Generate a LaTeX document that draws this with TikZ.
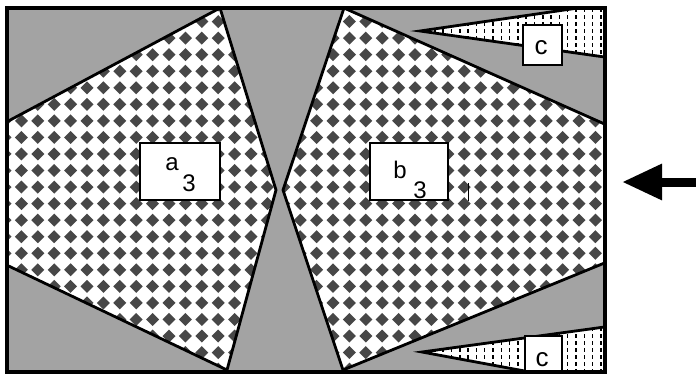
\documentclass[tikz,border=0pt]{standalone}
\usepackage{fontspec}
\setmainfont{Liberation Sans}
\usetikzlibrary{arrows.meta}

\begin{document}
\begin{tikzpicture}[x=1pt, y=-1pt,
    edge/.style = {line width=2.8pt, line join=miter},
    stipple/.style = {fill=black!36},
    chip/.style = {fill=black!72},
    lblbox/.style = {draw, line width=2pt, fill=white, inner sep=0pt},
    lbl/.style = {font=\fontsize{24}{24}\selectfont, inner sep=0pt, anchor=base},
    clbl/.style = {font=\fontsize{26}{26}\selectfont, inner sep=0pt, anchor=base}]
    \useasboundingbox (0,0) rectangle (696,375);

    % Frame corners
    \coordinate (TL) at (6.5,8);
    \coordinate (BR) at (604.5,372);
    \fill[stipple] (TL) rectangle (BR);

    % Region a
    \coordinate (A1) at (220,8);
    \coordinate (A2) at (6.5,122);
    \coordinate (A3) at (6.5,265);
    \coordinate (A4) at (227,370);
    \coordinate (A5) at (276,190);
    % Region b
    \coordinate (B1) at (344,8);
    \coordinate (B2) at (604.5,124);
    \coordinate (B3) at (604.5,263);
    \coordinate (B4) at (343,370);
    \coordinate (B5) at (283,190);

    % diamond pattern in a
    \begin{scope}
        \clip (A1) -- (A2) -- (A3) -- (A4) -- (A5) -- cycle;
        \fill[white] (TL) rectangle (BR);
        \foreach \i in {0,...,17}
            \foreach \j in {0,...,22}
                \fill[chip] ({5+16.4*\i},{5+16.55*\j}) +(-6.5,0) -- +(0,-6.5) -- +(6.5,0) -- +(0,6.5) -- cycle;
    \end{scope}
    % diamond pattern in b
    \begin{scope}
        \clip (B1) -- (B2) -- (B3) -- (B4) -- (B5) -- cycle;
        \fill[white] (TL) rectangle (BR);
        \foreach \i in {16,...,37}
            \foreach \j in {0,...,22}
                \fill[chip] ({5+16.4*\i},{5+16.55*\j}) +(-6.5,0) -- +(0,-6.5) -- +(6.5,0) -- +(0,6.5) -- cycle;
    \end{scope}
    \draw[edge] (A1) -- (A2) -- (A3) -- (A4) -- (A5) -- cycle;
    \draw[edge] (B1) -- (B2) -- (B3) -- (B4) -- (B5) -- cycle;

    % Wedges c
    \coordinate (C1) at (420,31);
    \coordinate (C2) at (578,8);
    \coordinate (C3) at (604.5,8);
    \coordinate (C4) at (604.5,57);
    \coordinate (D1) at (422,352);
    \coordinate (D2) at (604.5,327);
    \coordinate (D3) at (604.5,372);
    \coordinate (D4) at (530,372);
    \begin{scope}
        \clip (C1) -- (C2) -- (C3) -- (C4) -- cycle;
        \fill[white] (TL) rectangle (BR);
        \foreach \i in {0,...,23}
            \draw[line width=1.5pt, dash pattern=on 4pt off 3pt] ({410+8.3*\i},8) -- ({410+8.3*\i},60);
    \end{scope}
    \begin{scope}
        \clip (D1) -- (D2) -- (D3) -- (D4) -- cycle;
        \fill[white] (TL) rectangle (BR);
        \foreach \i in {0,...,23}
            \draw[line width=1.5pt, dash pattern=on 4pt off 3pt] ({410+8.3*\i},320) -- ({410+8.3*\i},372);
    \end{scope}
    \draw[edge] (C2) -- (C1) -- (C4);
    \draw[edge] (D2) -- (D1) -- (D4);

    % Label boxes
    \node[lblbox, minimum width=80pt, minimum height=57pt] (boxa) at (180,171.5) {};
    \node[lbl] (a) at (172,170) {a};
    \node[lbl] (a3) at (189,191) {3};
    \node[lblbox, minimum width=78pt, minimum height=57pt] (boxb) at (409,171.5) {};
    \node[lbl] (b) at (400,178) {b};
    \node[lbl] (b3) at (420,198) {3};
    \draw[line width=1pt] (468,183) -- (468,201);
    \node[lblbox, minimum width=39pt, minimum height=40pt] (boxc) at (542.5,45) {};
    \node[clbl] (c) at (541,54) {c};
    \node[lblbox, minimum width=37pt, minimum height=36pt] (boxd) at (543.5,354) {};
    \node[clbl] (d) at (542,366) {c};

    % Frame
    \draw[line width=4pt] (TL) rectangle (BR);

    % Arrow
    \coordinate (arrowstart) at (696,182);
    \coordinate (arrowend) at (622,182);
    \draw[line width=9pt, -{Triangle[length=40pt, width=34pt]}] (arrowstart) -- (arrowend);
\end{tikzpicture}
\end{document}
